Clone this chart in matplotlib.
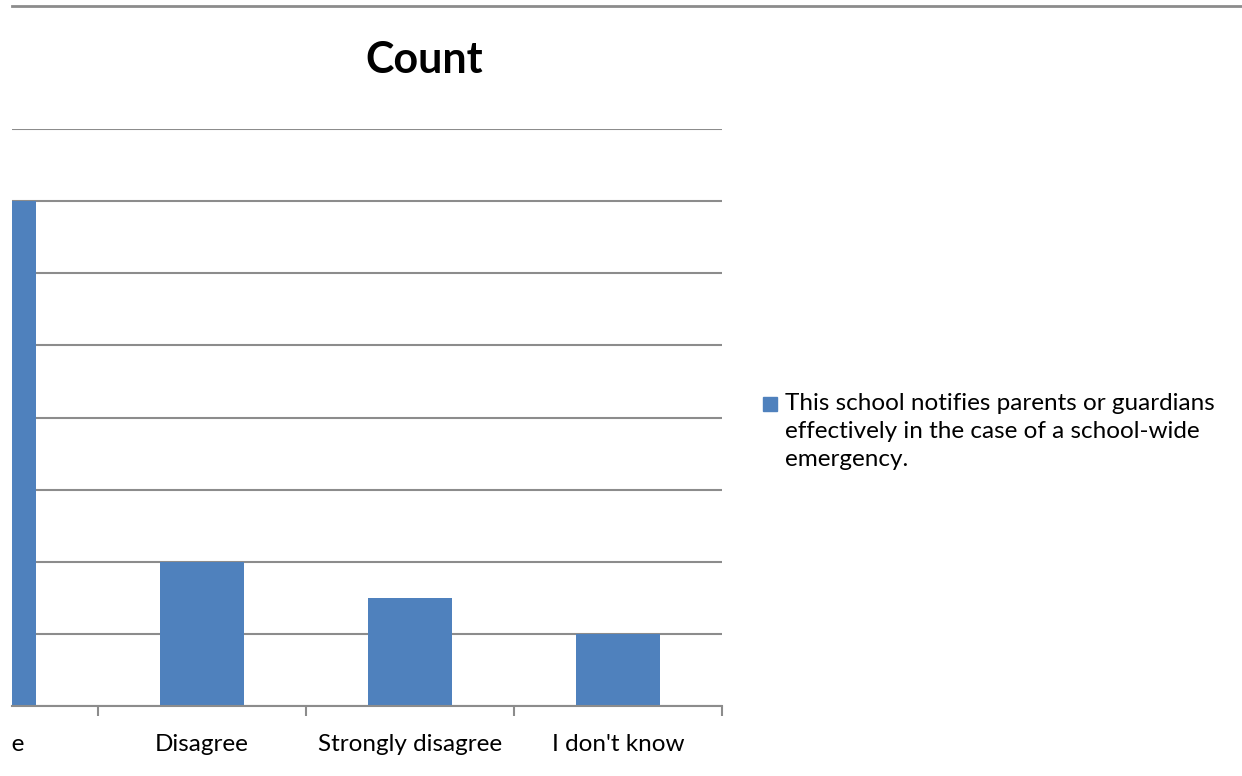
import matplotlib.pyplot as plt
from matplotlib.lines import Line2D
from matplotlib.patches import Rectangle
from matplotlib.transforms import Bbox, TransformedBbox

categories = ['Agree', 'Disagree', 'Strongly disagree', "I don't know"]
counts = [14, 4, 3, 2]
series_name = ('This school notifies parents or guardians\n'
               'effectively in the case of a school-wide\n'
               'emergency.')
title = 'Count'

plt.rcParams['font.family'] = ['Lato', 'DejaVu Sans']

W, H = 1242, 776
bar_color = '#4f81bd'
line_color = '#8c8c8c'
fig = plt.figure(figsize=(W / 100, H / 100), dpi=100)

# plot area (the chart is cut off on the left side)
ax = fig.add_axes([12 / W, (H - 706) / H, (722 - 12) / W, (706 - 129) / H])

x = list(range(len(categories)))
ax.bar(x, counts, width=0.4, color=bar_color, zorder=3)

ax.set_yticks(range(0, 17, 2))
ax.yaxis.grid(True, color=line_color, linewidth=1.5, zorder=0)
ax.tick_params(axis='y', left=False, labelleft=False)

# category boundaries get the tick marks
ax.set_xticks([i + 0.5 for i in range(len(categories))])
ax.tick_params(axis='x', length=7, width=1.5, color=line_color,
               labelbottom=False)

ax.set_xlim(0.0865, 3.5)
ax.set_ylim(0, 16)

# chart area starts 12 px in; anything left of it is cut off
chart_clip = TransformedBbox(Bbox([[12 / W, 0], [1, 1]]), fig.transFigure)

# category labels drawn as annotations so the cut-off first one still shows
for xi, name in zip(x, categories):
    lab = ax.annotate(name, xy=(xi, 0), xycoords=('data', 'axes fraction'),
                      xytext=(0, -20), textcoords='offset points',
                      ha='center', va='top', fontsize=17.5,
                      annotation_clip=False)
    lab.set_clip_box(chart_clip)
    lab.set_clip_on(True)

for side in ['left', 'right', 'top']:
    ax.spines[side].set_visible(False)
ax.spines['bottom'].set_color(line_color)
ax.spines['bottom'].set_linewidth(1.5)
ax.spines['bottom'].set_zorder(4)

fig.text(424 / W, (H - 60) / H, title, fontsize=31, fontweight='bold',
         ha='center', va='center')

# legend: square marker next to the first line of the wrapped series name
fig.add_artist(Rectangle((763 / W, (H - 411) / H), 14 / W, 14 / H,
                         transform=fig.transFigure, color=bar_color))
fig.text(785 / W, (H - 393) / H, series_name, fontsize=17.5,
         ha='left', va='top', linespacing=1.42)

# border line of the chart above, cut off by the screenshot
fig.add_artist(Line2D([12 / W, 1], [(H - 6) / H, (H - 6) / H],
                      color=line_color, linewidth=2))

fig.savefig('out.png', dpi=100)
